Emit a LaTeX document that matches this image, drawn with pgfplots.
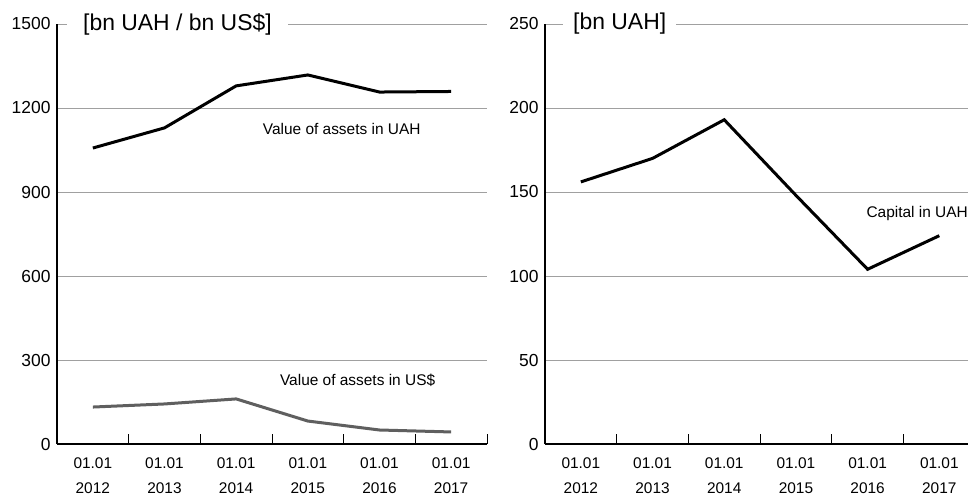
\documentclass[border=0pt]{standalone}
\usepackage{pgfplots}
\pgfplotsset{compat=1.18}
\usepackage{fontspec}
\setmainfont{Liberation Sans}
\definecolor{gridgray}{RGB}{160,160,160}
\definecolor{usdgray}{RGB}{95,95,95}
\begin{document}
\begin{tikzpicture}
\path[use as bounding box] (0bp,0bp) rectangle (968bp,496bp);
\pgfplotsset{
  mystyle/.style={
    scale only axis, height=420bp,
    axis x line=bottom, axis y line=left,
    axis line style={black, line width=1.2bp, -},
    xtick={0,...,5},
    xticklabels={{01.01\\2012},{01.01\\2013},{01.01\\2014},{01.01\\2015},{01.01\\2016},{01.01\\2017}},
    xticklabel style={align=center, font=\fontsize{15.5}{25}\selectfont, yshift=-10bp},
    minor xtick={0.5,1.5,...,5.5},
    major tick length=0bp, minor tick length=10bp, tick align=inside,
    minor tick style={black, line width=1bp},
    ymajorgrids, grid style={gridgray, line width=0.9bp},
    yticklabel style={font=\fontsize{17.5}{19}\selectfont, xshift=-3bp},
    /pgf/number format/assume math mode=true,
    /pgf/number format/1000 sep={},
    ymin=0, xmin=-0.5,
    clip=false,
  }
}
\begin{axis}[mystyle, at={(57bp,52bp)}, anchor=south west, width=430bp,
  xmax=5.5, ymax=1500, ytick={0,300,...,1500}]
\addplot[black, line width=3bp] coordinates {(0,1057) (1,1129) (2,1279) (3,1318) (4,1257) (5,1259)};
\addplot[usdgray, line width=3bp] coordinates {(0,132) (1,143) (2,161) (3,82) (4,50) (5,43)};
\node[anchor=west, fill=white, inner xsep=16bp, inner ysep=2bp, font=\fontsize{23}{25}\selectfont] at (rel axis cs:0.0233,1) {[bn UAH / bn US\$]};
\node[anchor=west, inner sep=0pt, font=\fontsize{15.5}{17}\selectfont] at (axis cs:2.37,1125) {Value of assets in UAH};
\node[anchor=west, inner sep=0pt, font=\fontsize{15.5}{17}\selectfont] at (axis cs:2.61,229) {Value of assets in US\$};
\end{axis}
\begin{axis}[mystyle, at={(545bp,52bp)}, anchor=south west, width=423bp,
  xmax=5.4, ymax=250, ytick={0,50,...,250}]
\addplot[black, line width=3bp] coordinates {(0,156) (1,170) (2,193) (3,148) (4,104) (5,124)};
\node[anchor=west, fill=white, inner xsep=10bp, inner ysep=2bp, font=\fontsize{23}{25}\selectfont] at (rel axis cs:0.0426,1) {[bn UAH]};
\node[anchor=east, inner sep=0pt, font=\fontsize{15.5}{17}\selectfont] at (rel axis cs:1,0.548) {Capital in UAH};
\end{axis}
\end{tikzpicture}
\end{document}
